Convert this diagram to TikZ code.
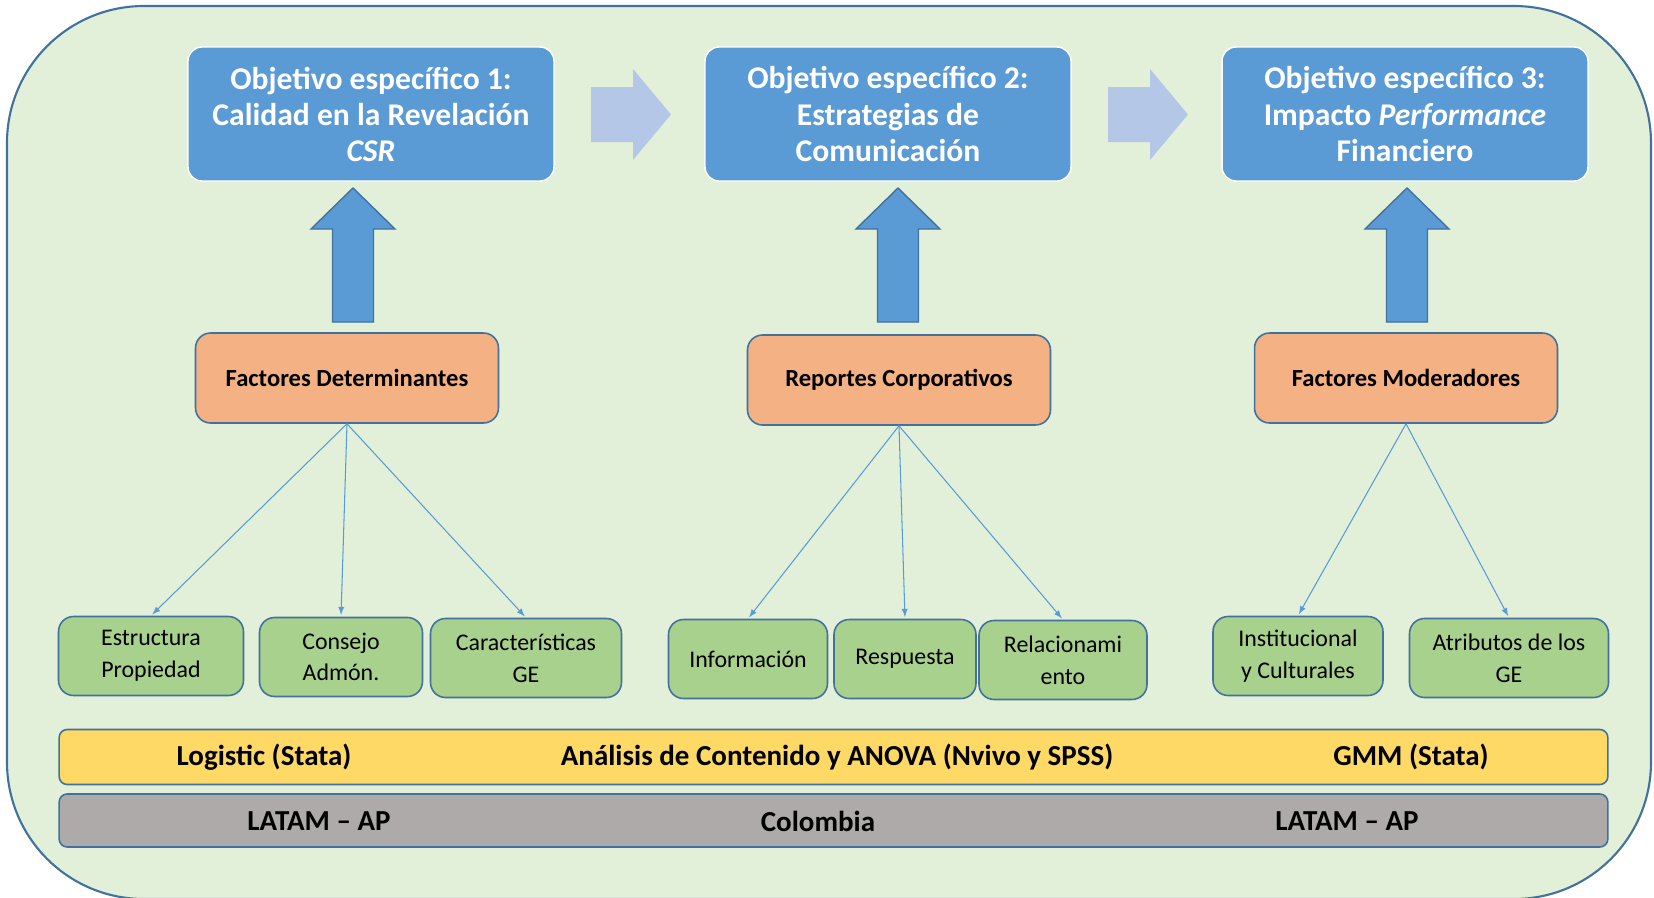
\documentclass[tikz,border=0pt]{standalone}
\usepackage{fontspec}
\setmainfont{Carlito}
\definecolor{marco}{HTML}{41719C}
\definecolor{fondo}{HTML}{E2F0D9}
\definecolor{azul}{HTML}{5B9BD5}
\definecolor{azulclaro}{HTML}{B4C7E7}
\definecolor{naranja}{HTML}{F4B183}
\definecolor{verde}{HTML}{A9D18E}
\definecolor{amarillo}{HTML}{FFD966}
\definecolor{gris}{HTML}{AEAAAA}

\begin{document}
\begin{tikzpicture}[x=0.02cm,y=-0.02cm]
    \tikzstyle{objetivo}=[rectangle,rounded corners=0.28cm,fill=azul,draw=white,line width=0.8pt,text=white,align=center,minimum width=7.32cm,minimum height=2.68cm,font=\fontsize{18}{20.5}\selectfont\bfseries]
    \tikzstyle{factor}=[rectangle,rounded corners=0.3cm,fill=naranja,draw=marco,line width=0.9pt,minimum width=6.06cm,minimum height=1.8cm,font=\fontsize{14}{17}\selectfont\bfseries]
    \tikzstyle{hoja}=[rectangle,rounded corners=0.3cm,fill=verde,draw=marco,line width=0.9pt,align=center,minimum height=1.58cm,inner sep=0pt,font=\fontsize{13.6}{18}\selectfont]
    \tikzstyle{barra}=[rectangle,rounded corners=0.16cm,draw=marco,line width=0.9pt,minimum width=30.98cm,minimum height=1.1cm];
    \tikzstyle{rotulo}=[font=\fontsize{16.5}{19}\selectfont\bfseries];
    \tikzstyle{enlace}=[->,>=latex,shorten >=1pt,draw=azul,line width=0.6pt];
    \tikzstyle{flecha}=[fill=azul,draw=marco,line width=0.8pt];
    \tikzstyle{paso}=[fill=azulclaro];
    \useasboundingbox (0,0) rectangle (1654,897);
    % Marco de fondo
    \draw[fill=fondo,draw=marco,line width=1.2pt,rounded corners=2.74cm] (7,6) rectangle (1651,899);
    % Objetivos especificos
    \node[objetivo] (obj1) at (371,114) {Objetivo específico 1:\\Calidad en la Revelación\\\textit{CSR}};
    \node[objetivo] (obj2) at (888,114) {Objetivo específico 2:\\Estrategias de\\Comunicación};
    \node[objetivo] (obj3) at (1405,114) {Objetivo específico 3:\\Impacto \textit{Performance}\\Financiero};
    % Flechas entre objetivos
    \foreach \x in {591,1108}
      \fill[paso] (\x,87) -- ++(42,0) -- ++(0,-18) -- ++(38,45.5) -- ++(-38,45.5) -- ++(0,-18) -- ++(-42,0) -- cycle;
    % Flechas hacia arriba
    \foreach \x in {353,898,1407}
      \draw[flecha] (\x-20.5,322) -- ++(41,0) -- ++(0,-93) -- ++(21.5,0) -- ++(-42,-41) -- ++(-42,41) -- ++(21.5,0) -- cycle;
    % Factores
    \node[factor] (det) at (347,378) {Factores Determinantes};
    \node[factor] (rep) at (899,380) {Reportes Corporativos};
    \node[factor] (mod) at (1406,378) {Factores Moderadores};
    % Variables
    \node[hoja,minimum width=3.7cm] (est) at (151,656) {Estructura\\Propiedad};
    \node[hoja,minimum width=3.26cm] (con) at (341,657) {Consejo\\Admón.};
    \node[hoja,minimum width=3.82cm] (car) at (526,658) {Características\\GE};
    \node[hoja,minimum width=3.18cm] (inf) at (748,659) {Información};
    \node[hoja,minimum width=2.84cm] (res) at (905,659) {Respuesta};
    \node[hoja,minimum width=3.36cm] (rel) at (1063,660) {Relacionami\\ento};
    \node[hoja,minimum width=3.4cm] (ins) at (1298,656) {Institucional\\y Culturales};
    \node[hoja,minimum width=3.98cm] (atr) at (1509,658) {Atributos de los\\GE};
    \foreach \h in {est,con,car}
      \path (det.south) edge[enlace] (\h.north);
    \foreach \h in {inf,res,rel}
      \path (rep.south) edge[enlace] (\h.north);
    \foreach \h in {ins,atr}
      \path (mod.south) edge[enlace] (\h.north);
    % Metodos y muestra
    \node[barra,fill=amarillo] (met) at (833.5,757) {};
    \node[barra,fill=gris,minimum height=1.06cm] (reg) at (833.5,820.5) {};
    \node[rotulo] (met1) at (264,757) {Logistic (Stata)};
    \node[rotulo] (met2) at (837,757) {Análisis de Contenido y ANOVA (Nvivo y SPSS)};
    \node[rotulo] (met3) at (1411,757) {GMM (Stata)};
    \node[rotulo] (reg1) at (319,821) {LATAM -- AP};
    \node[rotulo] (reg2) at (818,821) {Colombia};
    \node[rotulo] (reg3) at (1347,821) {LATAM -- AP};
\end{tikzpicture}
\end{document}
